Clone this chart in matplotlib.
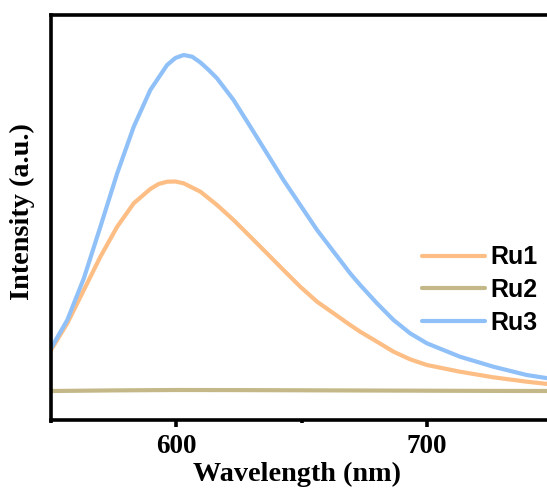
import matplotlib
matplotlib.use("Agg")
import matplotlib.pyplot as plt
from matplotlib.ticker import MultipleLocator

# Data (arbitrary intensity units)
wl_ru1 = [550.0, 556.5, 563.1, 569.7, 576.4, 583.0, 589.6, 592.9, 596.3, 599.6, 602.9,
          609.6, 616.2, 622.8, 629.5, 636.1, 642.7, 649.4, 656.1, 662.7, 669.3, 673.3,
          680.0, 686.6, 693.2, 699.9, 713.1, 726.4, 739.7, 750.0]
int_ru1 = [70.0, 96.7, 130.0, 163.3, 193.3, 216.7, 231.0, 236.0, 238.3, 238.5, 236.7,
           228.3, 215.0, 200.0, 183.3, 166.7, 150.0, 133.3, 118.3, 106.7, 95.0, 88.3,
           78.3, 68.3, 60.7, 55.0, 48.3, 42.7, 38.3, 35.5]

wl_ru2 = [550.0, 575.0, 600.0, 625.0, 650.0, 675.0, 700.0, 725.0, 750.0]
int_ru2 = [29.0, 29.6, 30.0, 29.9, 29.7, 29.5, 29.3, 29.1, 29.0]

wl_ru3 = [550.0, 556.5, 563.1, 569.7, 576.4, 583.0, 589.6, 596.3, 599.6, 602.9, 606.3,
          609.6, 612.9, 616.2, 622.8, 629.5, 636.1, 642.7, 649.4, 656.1, 662.7, 669.3,
          673.3, 680.0, 686.6, 693.2, 699.9, 713.1, 726.4, 739.7, 750.0]
int_ru3 = [71.7, 100.0, 141.7, 193.3, 246.7, 293.3, 330.0, 355.0, 362.0, 365.0, 363.3,
           357.5, 350.0, 341.7, 320.0, 293.3, 266.7, 240.0, 215.0, 190.0, 168.3, 146.7,
           135.0, 116.7, 100.0, 86.7, 76.7, 63.3, 53.3, 45.0, 41.0]

labels = ["Ru1", "Ru2", "Ru3"]
colors = ["#FDBE85", "#C4B888", "#90C0F8"]

W, H = 547, 494
fig = plt.figure(figsize=(W / 100, H / 100), dpi=100)
ax = fig.add_axes([51 / W, 1 - 420 / H, (552.5 - 51) / W, (420 - 15) / H])

for wl, it, lab, c in zip([wl_ru1, wl_ru2, wl_ru3], [int_ru1, int_ru2, int_ru3], labels, colors):
    ax.plot(wl, it, color=c, lw=3.0, label=lab, solid_capstyle="round",
            solid_joinstyle="round")

ax.set_xlim(550, 750)
ax.set_ylim(0, 405)
ax.xaxis.set_major_locator(MultipleLocator(100))
ax.xaxis.set_minor_locator(MultipleLocator(50))
ax.set_yticks([])
for s in ax.spines.values():
    s.set_linewidth(2.6)
ax.tick_params(axis="x", which="major", direction="out", length=5, width=2.6, pad=5)
ax.tick_params(axis="x", which="minor", direction="out", length=2.5, width=2.6)

serif = ["Liberation Serif", "DejaVu Serif"]
for t in ax.get_xticklabels():
    t.set_fontfamily(serif)
    t.set_fontweight("bold")
    t.set_fontsize(19.5)

fig.text(297 / W, 1 - 474 / H, "Wavelength (nm)", ha="center", va="center",
         fontsize=20.3, fontweight="bold", family=serif)
fig.text(22 / W, 1 - 212 / H, "Intensity (a.u.)", ha="center", va="center",
         rotation=90, fontsize=20.3, fontweight="bold", family=serif)

leg = ax.legend(loc="center left", bbox_to_anchor=(422 / W, 1 - 290 / H),
                bbox_transform=fig.transFigure, frameon=False, borderpad=0,
                borderaxespad=0, handlelength=2.5, handletextpad=0.25,
                labelspacing=0.35, prop={"family": ["Liberation Sans", "DejaVu Sans"],
                                         "weight": "bold", "size": 18})

fig.savefig("out.png", dpi=100)
